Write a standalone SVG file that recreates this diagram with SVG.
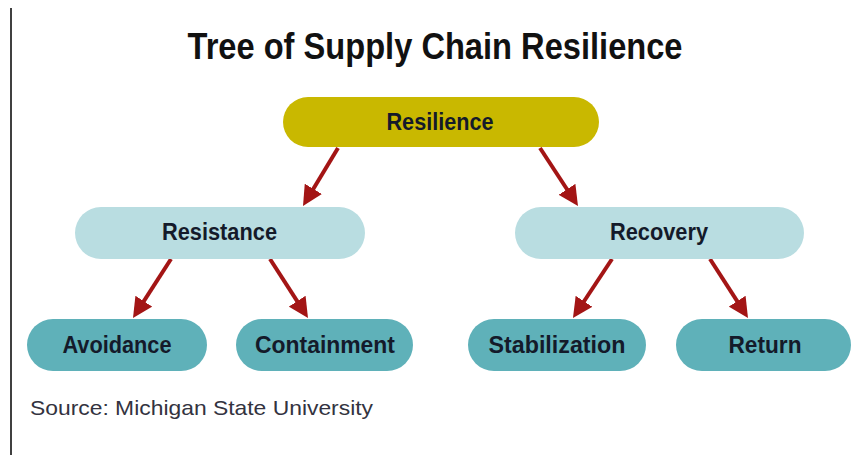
<svg xmlns="http://www.w3.org/2000/svg" width="851" height="455" viewBox="0 0 851 455">
<defs>
<style>
.lbl{font-family:"Liberation Sans",Arial,sans-serif;font-weight:bold;font-size:23px;fill:#141a2a;text-anchor:middle}
.top{fill:#c9b800}
.mid{fill:#b9dde1}
.leaf{fill:#5fb1b9}
.conn line{stroke:#a31515;stroke-width:4;marker-end:url(#ah)}
</style>
<marker id="ah" markerUnits="userSpaceOnUse" viewBox="0 0 20 20" refX="8" refY="10" markerWidth="20" markerHeight="20" orient="auto">
<path d="M0,0 L20,10 L0,20 Z" fill="#a31515"/>
</marker>
</defs>
<rect width="851" height="455" fill="#ffffff"/>
<line x1="11" y1="8" x2="11" y2="455" stroke="#000" stroke-width="1.5"/>
<text x="435" y="59" style="font-family:'Liberation Sans',Arial,sans-serif;font-weight:bold;font-size:36px;fill:#111" text-anchor="middle" textLength="495" lengthAdjust="spacingAndGlyphs">Tree of Supply Chain Resilience</text>
<g class="conn">
<line x1="338" y1="148" x2="309.2" y2="195.7"/>
<line x1="540" y1="148" x2="571.4" y2="196"/>
<line x1="171" y1="259" x2="139.5" y2="307.9"/>
<line x1="270" y1="259" x2="301.5" y2="307.9"/>
<line x1="612" y1="259" x2="579.6" y2="308"/>
<line x1="710" y1="259" x2="741.5" y2="307.9"/>
</g>
<g id="resilience"><rect class="top" x="283" y="97" width="316" height="50" rx="25"/><text class="lbl" x="440" y="130" textLength="107" lengthAdjust="spacingAndGlyphs">Resilience</text></g>
<g id="resistance"><rect class="mid" x="75" y="207" width="290" height="52" rx="26"/><text class="lbl" x="219.5" y="240" textLength="115" lengthAdjust="spacingAndGlyphs">Resistance</text></g>
<g id="recovery"><rect class="mid" x="515" y="207" width="289" height="52" rx="26"/><text class="lbl" x="659" y="240" textLength="98" lengthAdjust="spacingAndGlyphs">Recovery</text></g>
<g id="avoidance"><rect class="leaf" x="27" y="319" width="180" height="52" rx="26"/><text class="lbl" x="117" y="353" textLength="109" lengthAdjust="spacingAndGlyphs">Avoidance</text></g>
<g id="containment"><rect class="leaf" x="236" y="319" width="177" height="52" rx="26"/><text class="lbl" x="325" y="353" textLength="140" lengthAdjust="spacingAndGlyphs">Containment</text></g>
<g id="stabilization"><rect class="leaf" x="468" y="319" width="178" height="52" rx="26"/><text class="lbl" x="557" y="353" textLength="137" lengthAdjust="spacingAndGlyphs">Stabilization</text></g>
<g id="return"><rect class="leaf" x="676" y="319" width="175" height="52" rx="26"/><text class="lbl" x="765" y="353" textLength="73" lengthAdjust="spacingAndGlyphs">Return</text></g>
<text x="30" y="415" style="font-family:'Liberation Sans',Arial,sans-serif;font-size:21px;fill:#333340" textLength="343" lengthAdjust="spacingAndGlyphs">Source: Michigan State University</text>
</svg>
